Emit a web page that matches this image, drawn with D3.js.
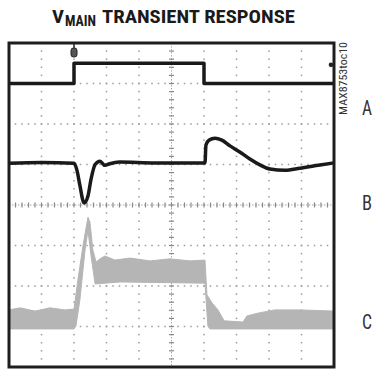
<!DOCTYPE html>
<html>
<head>
<meta charset="utf-8">
<script src="https://cdn.jsdelivr.net/npm/d3@7"></script>
<style>
  body { margin: 0; background: #fff; }
  svg { display: block; }
</style>
</head>
<body>
<svg width="375" height="371"></svg>
<script>
// scope screen: 10 time divisions x 8 voltage divisions
const timeDomain = [0, 10];
const voltDomain = [0, 8];
const channelLabels = ["A", "B", "C"];
const labelLevels = [6.4, 4.05, 1.11];

// trace A (black, load step)  [time div, volt div]
const traceA = [[0, 7.0], [2.0, 7.0], [2.0, 7.5], [6.0, 7.5], [6.0, 7.0], [10, 7.0]];

// trace B (black, output voltage)
const traceB = [
  [0, 5.03], [1.0, 5.05], [2.0, 5.03], [2.09, 4.86], [2.18, 4.49], [2.31, 4.05],
  [2.43, 4.22], [2.52, 4.62], [2.65, 5.0], [2.8, 5.08], [2.95, 4.98], [3.1, 5.02],
  [3.4, 5.06], [4.5, 5.04], [6.03, 5.04], [6.06, 5.48], [6.15, 5.6], [6.34, 5.65],
  [6.55, 5.6], [6.8, 5.46], [7.1, 5.31], [7.4, 5.14], [7.72, 4.99], [8.03, 4.89],
  [8.49, 4.86], [8.95, 4.91], [9.57, 4.99], [10, 5.04]
];

// trace C (gray, inductor current band): upper and lower envelopes
const traceCTop = [
  [0, 1.41], [0.34, 1.46], [0.8, 1.38], [1.26, 1.46], [1.72, 1.41], [2.0, 1.43],
  [2.12, 2.15], [2.28, 3.01], [2.43, 3.70], [2.49, 3.58], [2.58, 2.89], [2.68, 2.59],
  [2.8, 2.67], [2.95, 2.74], [3.26, 2.64], [3.72, 2.69], [4.34, 2.62], [4.95, 2.67],
  [5.57, 2.62], [6.03, 2.64], [6.09, 1.78], [6.25, 1.58], [6.43, 1.41], [6.62, 1.14],
  [7.2, 1.11], [7.32, 1.26], [7.66, 1.33], [8.18, 1.41], [8.95, 1.41], [10, 1.38]
];
const traceCBottom = [
  [0, 0.94], [2.0, 0.94], [2.06, 1.01], [2.18, 1.65], [2.34, 2.89], [2.43, 3.38],
  [2.52, 2.77], [2.65, 2.05], [3.42, 2.10], [6.03, 2.07], [6.12, 1.01], [6.18, 0.94],
  [10, 0.94]
];

const plot = {left: 9, right: 334, top: 43, bottom: 367};
const svg = d3.select("svg");

const x = d3.scaleLinear().domain(timeDomain).range([plot.left, plot.right]);
const y = d3.scaleLinear().domain(voltDomain).range([plot.bottom, plot.top]);

// title
const titleFont = "'Liberation Sans Narrow', 'Roboto Condensed', 'Liberation Sans', Arial, sans-serif";
svg.append("text").attr("x", 52).attr("y", 23)
  .attr("font-family", titleFont).attr("font-weight", "bold").attr("font-size", 19)
  .attr("textLength", 12).attr("lengthAdjust", "spacingAndGlyphs")
  .attr("fill", "#1a1a1a").text("V");
svg.append("text").attr("x", 65).attr("y", 26)
  .attr("font-family", titleFont).attr("font-weight", "bold").attr("font-size", 14)
  .attr("textLength", 31).attr("lengthAdjust", "spacingAndGlyphs")
  .attr("fill", "#1a1a1a").text("MAIN");
svg.append("text").attr("x", 102).attr("y", 23)
  .attr("font-family", titleFont).attr("font-weight", "bold").attr("font-size", 19)
  .attr("textLength", 193).attr("lengthAdjust", "spacingAndGlyphs")
  .attr("fill", "#1a1a1a").text("TRANSIENT RESPONSE");

// grid dots
const grid = svg.append("g");
const minor = d3.range(0, 50.01, 1).map(i => i / 5);
const minorV = d3.range(0, 40.01, 1).map(i => i / 5);
[1, 2, 3, 4, 6, 7, 8, 9].forEach(t => {
  grid.selectAll(null).data(minorV).enter().append("rect")
    .attr("x", x(t) - 0.75).attr("y", d => y(d) - 0.75)
    .attr("width", 1.5).attr("height", 1.5).attr("fill", "#9a9a9a");
});
[1, 2, 3, 5, 6, 7].forEach(v => {
  grid.selectAll(null).data(minor).enter().append("rect")
    .attr("x", d => x(d) - 0.75).attr("y", y(v) - 0.75)
    .attr("width", 1.5).attr("height", 1.5).attr("fill", "#9a9a9a");
});
// center axes with minor ticks
grid.append("line").attr("x1", x(5)).attr("x2", x(5)).attr("y1", y(8)).attr("y2", y(0))
  .attr("stroke", "#aaa").attr("stroke-width", 1).attr("stroke-dasharray", "1.5 1.5");
grid.append("line").attr("x1", x(0)).attr("x2", x(10)).attr("y1", y(4)).attr("y2", y(4))
  .attr("stroke", "#aaa").attr("stroke-width", 1).attr("stroke-dasharray", "1.5 1.5");
grid.selectAll(null).data(minorV).enter().append("line")
  .attr("x1", x(5) - 2.5).attr("x2", x(5) + 2.5).attr("y1", d => y(d)).attr("y2", d => y(d))
  .attr("stroke", "#888").attr("stroke-width", 1.2);
grid.selectAll(null).data(minor).enter().append("line")
  .attr("x1", d => x(d)).attr("x2", d => x(d)).attr("y1", y(4) - 2.5).attr("y2", y(4) + 2.5)
  .attr("stroke", "#888").attr("stroke-width", 1.2);

// trace C band
const line = d3.line().x(d => x(d[0])).y(d => y(d[1]));
svg.append("path")
  .attr("d", line(traceCTop.concat(traceCBottom.slice().reverse())) + "Z")
  .attr("fill", "#b5b5b5").attr("stroke", "#b5b5b5").attr("stroke-width", 1);

// traces A and B
svg.append("path").datum(traceA).attr("d", line)
  .attr("fill", "none").attr("stroke", "#1a1a1a").attr("stroke-width", 3.5)
  .attr("stroke-linejoin", "round");
svg.append("path").datum(traceB).attr("d", d3.line().x(d => x(d[0])).y(d => y(d[1])).curve(d3.curveMonotoneX))
  .attr("fill", "none").attr("stroke", "#1a1a1a").attr("stroke-width", 3.5)
  .attr("stroke-linejoin", "round");

// trigger marker and channel marker
svg.append("line").attr("x1", x(2)).attr("x2", x(2)).attr("y1", plot.top).attr("y2", plot.top + 6)
  .attr("stroke", "#222").attr("stroke-width", 1.5);
svg.append("rect").attr("x", x(2) - 3).attr("y", plot.top + 5).attr("width", 6).attr("height", 9)
  .attr("rx", 2.5).attr("fill", "#555").attr("stroke", "#222").attr("stroke-width", 1);
svg.append("circle").attr("cx", x(10) - 3).attr("cy", y(7.46)).attr("r", 2.3)
  .attr("fill", "#222");

// frame
svg.append("rect").attr("x", plot.left).attr("y", plot.top)
  .attr("width", plot.right - plot.left).attr("height", plot.bottom - plot.top)
  .attr("fill", "none").attr("stroke", "#1e1e1e").attr("stroke-width", 3);

// channel labels
svg.selectAll(".chan").data(channelLabels).enter().append("text")
  .attr("class", "chan")
  .attr("x", 367).attr("y", (d, i) => y(labelLevels[i]) + 7)
  .attr("text-anchor", "middle")
  .attr("font-family", titleFont).attr("font-size", 20)
  .attr("textLength", 10).attr("lengthAdjust", "spacingAndGlyphs")
  .attr("fill", "#333").text(d => d);

// part number
svg.append("text")
  .attr("transform", "translate(347,115) rotate(-90)")
  .attr("font-family", titleFont).attr("font-size", 10)
  .attr("textLength", 73).attr("lengthAdjust", "spacingAndGlyphs")
  .attr("fill", "#333").text("MAX8753toc10");
</script>
</body>
</html>
